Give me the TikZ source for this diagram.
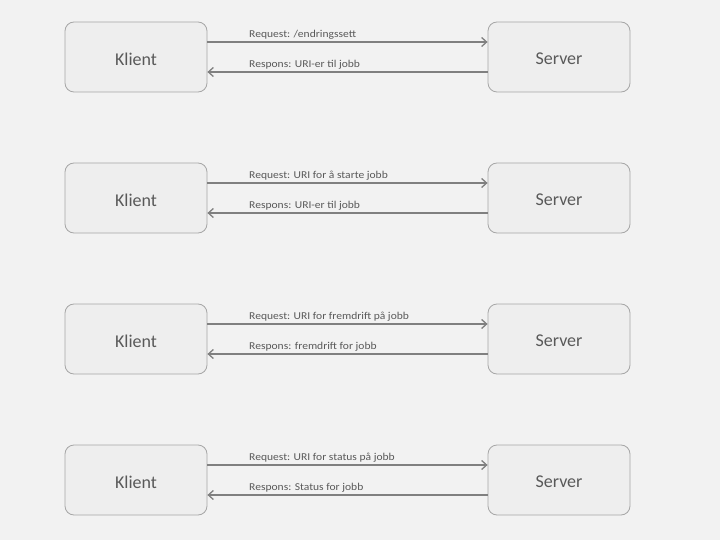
\documentclass[tikz,border=0pt]{standalone}
\usepackage{fontspec}
\setmainfont{Carlito}
\usetikzlibrary{arrows.meta}
\definecolor{bg}{HTML}{F2F2F2}
\definecolor{boxfill}{HTML}{EEEEEE}
\definecolor{boxline}{HTML}{A6A6A6}
\definecolor{txt}{HTML}{595959}
\definecolor{arr}{HTML}{808080}
\newcommand{\msgtext}[1]{\scalebox{1.1}[1]{#1}}
\tikzset{
  party/.style={draw=boxline, fill=boxfill, rounded corners=9pt, line width=0.8pt,
    minimum width=142pt, minimum height=70pt, inner sep=0pt},
  ptext/.style={text=txt, font=\fontsize{18}{21}\selectfont, inner sep=0pt},
  msg/.style={draw=arr, line width=1.6pt, -{Straight Barb[length=5pt,width=9pt,line width=1.3pt]}},
  lbl/.style={text=txt, font=\fontsize{10.5}{12}\selectfont, anchor=base west, inner sep=0pt}
}
\begin{document}
\begin{tikzpicture}[x=1pt,y=-1pt]
\fill[bg] (0,0) rectangle (720,540);
\useasboundingbox (0,0) rectangle (720,540);
\foreach \i/\req/\res in {0/{Request: /endringssett}/{Respons: URI-er til jobb},
                          1/{Request: URI for å starte jobb}/{Respons: URI-er til jobb},
                          2/{Request: URI for fremdrift på jobb}/{Respons: fremdrift for jobb},
                          3/{Request: URI for status på jobb}/{Respons: Status for jobb}}{
  \pgfmathsetmacro{\ty}{22+141*\i}
  \node[party] (k\i) at (136,\ty+35) {};
  \node[party] (s\i) at (559,\ty+35) {};
  \node[ptext] (kt\i) at ([yshift=-2pt]k\i.center) {Klient};
  \node[ptext] (st\i) at ([yshift=-2pt]s\i.center) {Server};
  \draw[msg] (k\i.east |- 0,\ty+20) -- (s\i.west |- 0,\ty+20);
  \draw[msg] (s\i.west |- 0,\ty+50) -- (k\i.east |- 0,\ty+50);
  \node[lbl] (q\i) at (249,\ty+15.5) {\msgtext{\req}};
  \node[lbl] (r\i) at (249,\ty+45.5) {\msgtext{\res}};
}
\end{tikzpicture}
\end{document}
